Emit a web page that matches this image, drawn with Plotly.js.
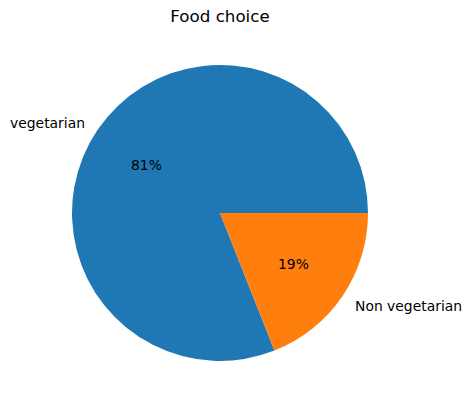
<!DOCTYPE html>
<html>
<head>
<meta charset="utf-8">
<script src="https://cdn.plot.ly/plotly-3.0.1.min.js"></script>
<style>html,body{margin:0;padding:0;background:#fff;}#chart{width:472px;height:409px;}</style>
</head>
<body>
<div id="chart"></div>
<script>
const categories = ["vegetarian", "Non vegetarian"];
const values = [81, 19];
const colors = ["#1f77b4", "#ff7f0e"];
const chartTitle = "Food choice";

const total = values.reduce((a, b) => a + b, 0);
const annotations = [];
let start = 0; // degrees, counterclockwise from 3 o'clock (matplotlib default)
values.forEach((v, i) => {
  const span = v / total * 360;
  const mid = (start + span / 2) * Math.PI / 180;
  const c = Math.cos(mid), s = Math.sin(mid);
  // percentage label at 0.6 radius
  annotations.push({
    xref: 'paper', yref: 'paper',
    x: 0.5 + 0.5 * 0.6 * c, y: 0.5 + 0.5 * 0.6 * s,
    text: Math.round(v / total * 100) + '%',
    showarrow: false, xanchor: 'center', yanchor: 'middle', yshift: -1.5,
    font: {family: 'DejaVu Sans', size: 13.9, color: '#000'}
  });
  // category label at 1.1 radius
  annotations.push({
    xref: 'paper', yref: 'paper',
    x: 0.5 + 0.5 * 1.1 * c, y: 0.5 + 0.5 * 1.1 * s,
    text: categories[i],
    showarrow: false, xanchor: c < 0 ? 'right' : 'left', yanchor: 'middle',
    xshift: c < 0 ? 2 : -2, yshift: -1.5,
    font: {family: 'DejaVu Sans', size: 13.9, color: '#000'}
  });
  start += span;
});

// Plotly (counterclockwise) ends the first slice at `rotation`; shift so the
// first slice starts at 3 o'clock, like matplotlib's default.
const rotation = 90 - 360 * values[0] / total;

const data = [{
  type: 'pie',
  labels: categories,
  values: values,
  sort: false,
  direction: 'counterclockwise',
  rotation: rotation,
  textinfo: 'none',
  hoverinfo: 'label+percent',
  marker: {colors: colors, line: {width: 0}},
  showlegend: false
}];

const layout = {
  width: 472, height: 409,
  margin: {l: 72, r: 104, t: 65, b: 48, pad: 0},
  paper_bgcolor: '#fff', plot_bgcolor: '#fff',
  title: {
    text: chartTitle,
    xref: 'container', yref: 'container',
    x: 220 / 472, y: 1 - 16.5 / 409,
    xanchor: 'center', yanchor: 'middle',
    font: {family: 'DejaVu Sans', size: 16.7, color: '#000'}
  },
  annotations: annotations,
  showlegend: false
};

Plotly.newPlot('chart', data, layout, {displayModeBar: false, staticPlot: true});
</script>
</body>
</html>
